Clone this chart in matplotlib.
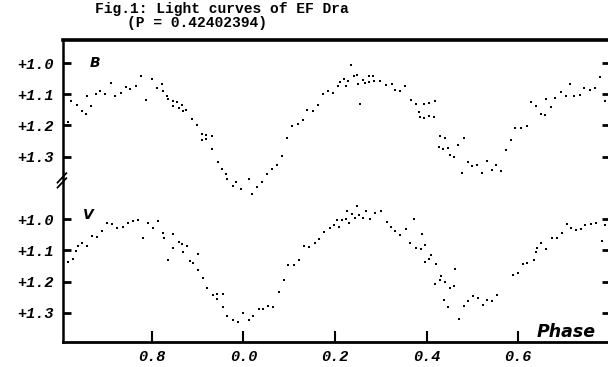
import matplotlib
matplotlib.use('Agg')
import matplotlib.pyplot as plt

# phase runs continuously past 1.0; tick labels wrap back to 0.0
b_phase = [0.616, 0.622, 0.637, 0.646, 0.656, 0.659, 0.667, 0.678, 0.686, 0.698,
           0.710, 0.720, 0.732, 0.743, 0.753, 0.765, 0.777, 0.787, 0.800, 0.810,
           0.821, 0.823, 0.832, 0.836, 0.845, 0.845, 0.855, 0.858, 0.866, 0.867,
           0.874, 0.887, 0.898, 0.909, 0.909, 0.918, 0.918, 0.931, 0.932, 0.944,
           0.952, 0.962, 0.965, 0.976, 0.984, 0.995, 1.011, 1.019, 1.030, 1.040,
           1.051, 1.062, 1.073, 1.085, 1.096, 1.107, 1.120, 1.131, 1.139, 1.151,
           1.162, 1.174, 1.184, 1.195, 1.206, 1.211, 1.220, 1.223, 1.229, 1.234,
           1.242, 1.248, 1.251, 1.255, 1.261, 1.266, 1.275, 1.275, 1.284, 1.285,
           1.298, 1.311, 1.324, 1.331, 1.341, 1.353, 1.366, 1.377, 1.384, 1.386,
           1.395, 1.395, 1.406, 1.406, 1.416, 1.419, 1.430, 1.428, 1.437, 1.441,
           1.446, 1.451, 1.461, 1.468, 1.478, 1.482, 1.490, 1.499, 1.511, 1.521,
           1.533, 1.543, 1.551, 1.562, 1.574, 1.584, 1.594, 1.607, 1.619, 1.628,
           1.639, 1.650, 1.659, 1.661, 1.672, 1.681, 1.693, 1.704, 1.714, 1.723,
           1.736, 1.745, 1.757, 1.768, 1.779, 1.790]
b_mag = [1.190, 1.123, 1.134, 1.155, 1.162, 1.107, 1.139, 1.099, 1.088, 1.099,
         1.063, 1.105, 1.096, 1.077, 1.084, 1.073, 1.041, 1.118, 1.050, 1.081,
         1.067, 1.088, 1.105, 1.116, 1.123, 1.137, 1.126, 1.144, 1.134, 1.152,
         1.150, 1.179, 1.197, 1.226, 1.247, 1.229, 1.243, 1.235, 1.274, 1.316,
         1.341, 1.354, 1.370, 1.394, 1.381, 1.404, 1.373, 1.418, 1.398, 1.381,
         1.357, 1.339, 1.325, 1.298, 1.241, 1.202, 1.196, 1.182, 1.150, 1.152,
         1.134, 1.100, 1.090, 1.096, 1.075, 1.061, 1.052, 1.073, 1.058, 1.006,
         1.041, 1.039, 1.068, 1.131, 1.054, 1.065, 1.041, 1.061, 1.041, 1.058,
         1.056, 1.071, 1.068, 1.086, 1.091, 1.072, 1.118, 1.132, 1.158, 1.173,
         1.131, 1.177, 1.128, 1.171, 1.174, 1.123, 1.235, 1.268, 1.275, 1.241,
         1.272, 1.293, 1.300, 1.261, 1.351, 1.241, 1.318, 1.330, 1.328, 1.351,
         1.315, 1.344, 1.325, 1.346, 1.279, 1.245, 1.209, 1.208, 1.201, 1.126,
         1.137, 1.163, 1.167, 1.114, 1.141, 1.111, 1.093, 1.107, 1.068, 1.107,
         1.102, 1.081, 1.085, 1.079, 1.044, 1.123]

v_phase = [0.616, 0.627, 0.635, 0.638, 0.646, 0.659, 0.668, 0.679, 0.690, 0.701,
           0.713, 0.724, 0.736, 0.748, 0.758, 0.769, 0.780, 0.792, 0.802, 0.814,
           0.823, 0.826, 0.836, 0.845, 0.845, 0.858, 0.865, 0.867, 0.877, 0.882,
           0.890, 0.901, 0.901, 0.911, 0.921, 0.933, 0.943, 0.943, 0.955, 0.955,
           0.965, 0.976, 0.987, 0.998, 1.011, 1.020, 1.034, 1.043, 1.053, 1.065,
           1.078, 1.089, 1.098, 1.110, 1.122, 1.133, 1.144, 1.156, 1.165, 1.176,
           1.188, 1.198, 1.209, 1.205, 1.215, 1.223, 1.227, 1.231, 1.237, 1.243,
           1.249, 1.253, 1.262, 1.268, 1.277, 1.288, 1.300, 1.313, 1.322, 1.332,
           1.341, 1.355, 1.364, 1.373, 1.376, 1.387, 1.390, 1.397, 1.397, 1.406,
           1.409, 1.421, 1.419, 1.430, 1.431, 1.439, 1.441, 1.448, 1.451, 1.459,
           1.462, 1.471, 1.481, 1.491, 1.502, 1.513, 1.523, 1.533, 1.544, 1.555,
           1.588, 1.599, 1.610, 1.620, 1.634, 1.639, 1.641, 1.650, 1.661, 1.674,
           1.685, 1.696, 1.707, 1.716, 1.726, 1.737, 1.747, 1.759, 1.770, 1.783,
           1.790]
v_mag = [1.138, 1.127, 1.102, 1.086, 1.077, 1.086, 1.054, 1.056, 1.038, 1.013,
         1.017, 1.027, 1.024, 1.011, 1.005, 1.002, 1.062, 1.013, 1.030, 1.005,
         1.045, 1.062, 1.131, 1.048, 1.091, 1.073, 1.081, 1.107, 1.086, 1.135,
         1.142, 1.164, 1.113, 1.189, 1.222, 1.242, 1.256, 1.241, 1.240, 1.282,
         1.310, 1.323, 1.331, 1.301, 1.323, 1.310, 1.288, 1.288, 1.277, 1.282,
         1.235, 1.194, 1.147, 1.148, 1.132, 1.087, 1.088, 1.075, 1.065, 1.040,
         1.027, 1.019, 1.024, 1.003, 1.002, 1.000, 0.973, 1.011, 0.984, 0.995,
         0.957, 0.987, 0.995, 0.973, 1.000, 0.981, 0.973, 1.009, 1.024, 1.038,
         1.052, 1.032, 1.078, 1.000, 1.094, 1.095, 1.048, 1.084, 1.138, 1.127,
         1.114, 1.145, 1.207, 1.196, 1.181, 1.260, 1.202, 1.282, 1.220, 1.213,
         1.161, 1.320, 1.280, 1.261, 1.247, 1.254, 1.275, 1.258, 1.261, 1.244,
         1.180, 1.172, 1.144, 1.140, 1.132, 1.107, 1.091, 1.075, 1.097, 1.062,
         1.061, 1.045, 1.016, 1.027, 1.035, 1.032, 1.019, 1.015, 1.011, 1.070,
         1.019]

# V curve is drawn 0.5 mag below B on the same axis
v_offset = 0.5
mag_ticks = [1.0, 1.1, 1.2, 1.3]
phase_ticks = [0.8, 1.0, 1.2, 1.4, 1.6]
phase_labels = ['0.8', '0.0', '0.2', '0.4', '0.6']

mono = 'Liberation Mono'

fig = plt.figure(figsize=(6.08, 3.67), dpi=100)
ax = fig.add_axes([0.1036, 0.068, 0.8997, 0.823])

ax.plot(b_phase, b_mag, 's', ms=2.1, color='black', mew=0)
ax.plot(v_phase, [m + v_offset for m in v_mag], 's', ms=1.9, color='black', mew=0)

ax.set_xlim(0.6055, 1.801)
ax.set_ylim(1.894, 0.926)

ax.spines['right'].set_visible(False)
ax.spines['top'].set_linewidth(2.6)
ax.spines['left'].set_linewidth(1.8)
ax.spines['bottom'].set_linewidth(2.0)

yt = mag_ticks + [m + v_offset for m in mag_ticks]
ax.set_yticks(yt)
ax.set_yticklabels(['+%.1f' % m for m in mag_ticks] * 2)
ax.set_xticks(phase_ticks)
ax.set_xticklabels(phase_labels)

ax.tick_params(axis='y', direction='in', length=6, width=2.0, right=True, pad=7)
ax.tick_params(axis='x', direction='in', length=8, width=1.5, pad=6)
for lab in ax.get_yticklabels() + ax.get_xticklabels():
    lab.set_fontfamily(mono)
    lab.set_fontweight('bold')
    lab.set_fontstyle('italic')
    lab.set_fontsize(11)

# axis break mark on the left spine
yaxis_tr = ax.get_yaxis_transform()
for dy in (-0.012, 0.004):
    ax.plot([-0.010, 0.006], [1.395 + dy, 1.365 + dy], color='black', lw=1.3,
            transform=yaxis_tr, clip_on=False)

ax.text(0.675, 1.0, 'B', fontsize=10, fontweight='bold', fontstyle='italic',
        ha='center', va='center')
ax.text(0.660, 1.487, 'V', fontsize=10, fontweight='bold', fontstyle='italic',
        ha='center', va='center')
ax.text(1.705, 1.862, 'Phase', fontsize=12.5, fontweight='bold', fontstyle='italic',
        ha='center', va='center')

fig.text(95 / 608, 1 - 9.5 / 367, 'Fig.1: Light curves of EF Dra', family=mono,
         fontweight='bold', fontsize=10.5, ha='left', va='center')
fig.text(127 / 608, 1 - 23 / 367, '(P = 0.42402394)', family=mono,
         fontweight='bold', fontsize=10.5, ha='left', va='center')

fig.savefig('out.png', dpi=100)
